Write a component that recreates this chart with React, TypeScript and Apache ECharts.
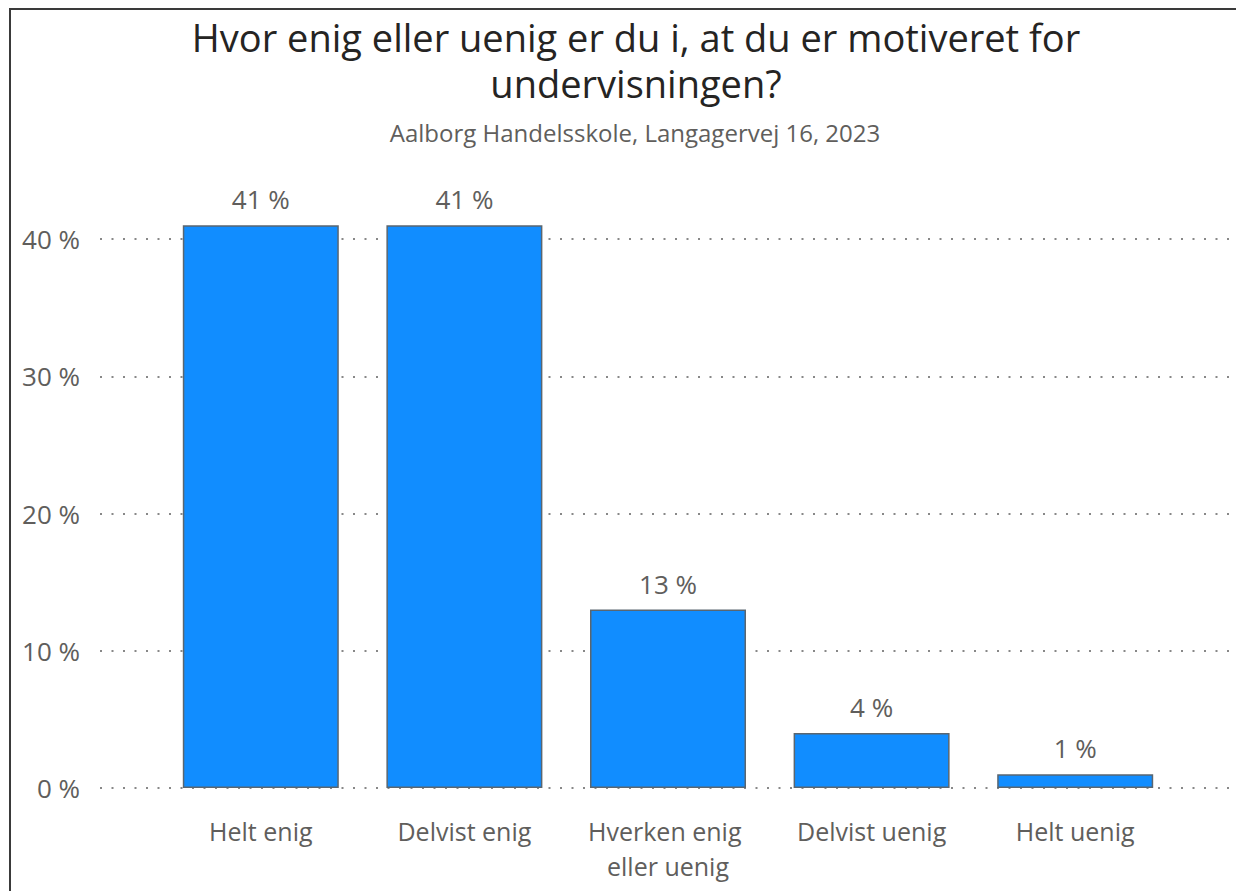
import React, { useEffect, useRef } from "react";
import * as echarts from "echarts";

const titleLines = ["Hvor enig eller uenig er du i, at du er motiveret for", "undervisningen?"];
const subtitle = "Aalborg Handelsskole, Langagervej 16, 2023";
const categories = ["Helt enig", "Delvist enig", "Hverken enig eller uenig", "Delvist uenig", "Helt uenig"];
const values = [41, 41, 13, 4, 1];
const yTicks = [0, 10, 20, 30, 40];

const FONT = "'Open Sans', 'Noto Sans', sans-serif";

export default function App() {
  const ref = useRef<HTMLDivElement>(null);
  useEffect(() => {
    if (!ref.current) return;
    const chart = echarts.init(ref.current, undefined, { renderer: "svg" });
    const yMin = yTicks[0];
    const yMax = yTicks[yTicks.length - 1];
    const yInterval = yTicks[1] - yTicks[0];
    chart.setOption({
      animation: false,
      backgroundColor: "#ffffff",
      title: [
        {
          text: titleLines[0],
          left: 631,
          top: 10,
          textAlign: "center",
          textStyle: { fontFamily: FONT, fontSize: 38, fontWeight: "normal", color: "#252423", lineHeight: 44 },
        },
        {
          text: titleLines[1],
          left: 631,
          top: 56,
          textAlign: "center",
          textStyle: { fontFamily: FONT, fontSize: 38, fontWeight: "normal", color: "#252423", lineHeight: 44 },
        },
        {
          text: subtitle,
          left: 630,
          top: 113,
          textAlign: "center",
          textStyle: { fontFamily: FONT, fontSize: 24, fontWeight: "normal", color: "#605E5C", lineHeight: 28 },
        },
      ],
      graphic: [
        {
          type: "rect",
          shape: { x: 10, y: 9, width: 1400, height: 1000 },
          style: { fill: "none", stroke: "#3a3a3a", lineWidth: 2 },
          silent: true,
          z: 100,
        },
      ],
      grid: [
        { left: 100, right: 0, top: 239, bottom: 103 },
        { left: 159, width: 1018, top: 239, bottom: 103 },
      ],
      xAxis: [
        { type: "value", gridIndex: 0, show: false, min: 0, max: 1 },
        {
          type: "category",
          gridIndex: 1,
          data: categories,
          axisLine: { show: false },
          axisTick: { show: false },
          axisLabel: {
            margin: 25,
            fontFamily: FONT,
            fontSize: 25,
            color: "#605E5C",
            lineHeight: 35,
            width: 190,
            overflow: "break",
            interval: 0,
          },
        },
      ],
      yAxis: [
        {
          type: "value",
          gridIndex: 0,
          min: yMin,
          max: yMax,
          interval: yInterval,
          axisLine: { show: false },
          axisTick: { show: false },
          axisLabel: {
            margin: 20,
            fontFamily: FONT,
            fontSize: 26,
            color: "#605E5C",
            formatter: (v: number) => `${v} %`,
          },
          splitLine: { show: true, lineStyle: { color: "#888888", width: 2, type: [2, 9.5] } },
        },
        {
          type: "value",
          gridIndex: 1,
          min: yMin,
          max: yMax,
          interval: yInterval,
          show: false,
          splitLine: { show: false },
        },
      ],
      series: [
        {
          type: "bar",
          xAxisIndex: 1,
          yAxisIndex: 1,
          data: values,
          barWidth: 156,
          clip: false,
          itemStyle: { color: "#118DFF", borderColor: "#5a6670", borderWidth: 1.5 },
          label: {
            show: true,
            position: "top",
            distance: 13,
            fontFamily: FONT,
            fontSize: 26,
            color: "#605E5C",
            formatter: (p: any) => `${p.value} %`,
          },
        },
      ],
    });
    return () => chart.dispose();
  }, []);
  return (
    <div
      ref={ref}
      style={{ position: "fixed", left: 0, top: 0, width: 1236, height: 891, background: "#fff" }}
    />
  );
}
